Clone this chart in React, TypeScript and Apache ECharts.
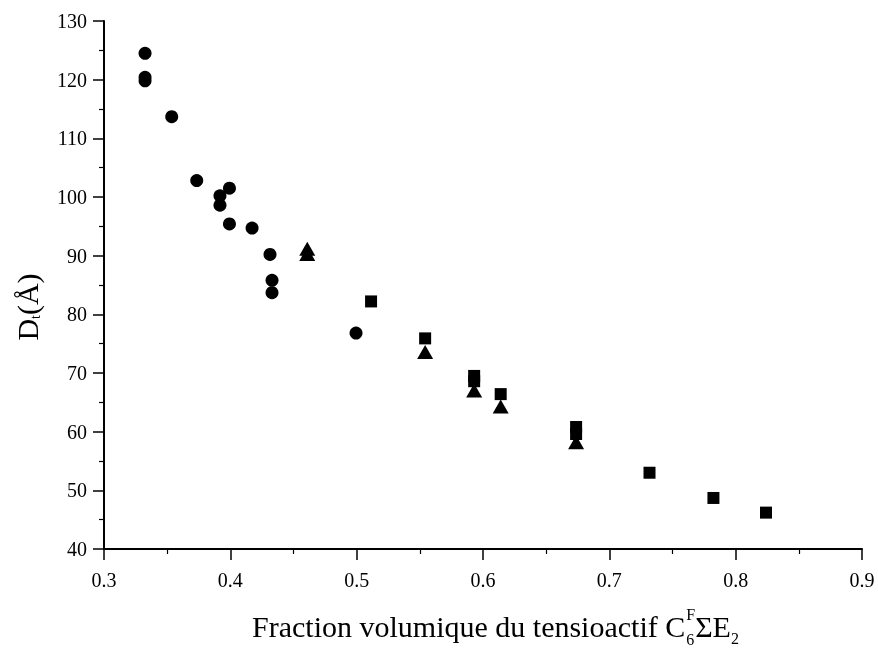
import React, { useEffect, useRef } from "react";
import * as echarts from "echarts";

const circleX = [0.3325, 0.3325, 0.3325, 0.3536, 0.3734, 0.3993, 0.3918, 0.3918, 0.3993, 0.4172, 0.4314, 0.433, 0.433, 0.4995];
const circleY = [124.5, 120.4, 119.8, 113.7, 102.8, 101.5, 100.2, 98.6, 95.4, 94.7, 90.2, 85.8, 83.7, 76.8];
const squareX = [0.5114, 0.5542, 0.593, 0.593, 0.614, 0.6737, 0.6737, 0.7318, 0.7824, 0.824];
const squareY = [82.2, 75.9, 69.5, 68.6, 66.4, 60.8, 59.6, 53.0, 48.7, 46.2];
const triangleX = [0.4609, 0.4609, 0.5542, 0.593, 0.614, 0.6737];
const triangleY = [91.2, 90.3, 73.6, 67.0, 64.3, 58.2];

const FF = '"Liberation Serif", "Times New Roman", serif';

const pairs = (xs: number[], ys: number[]) => xs.map((x, i) => [x, ys[i]]);

export default function App() {
  const ref = useRef<HTMLDivElement>(null);
  useEffect(() => {
    if (!ref.current) return;
    const chart = echarts.init(ref.current, undefined, { renderer: "svg" });
    const ctx = document.createElement("canvas").getContext("2d")!;
    const w = (t: string, s: number) => {
      ctx.font = `${s}px ${FF}`;
      return ctx.measureText(t).width;
    };
    // Title pieces
    const tMain = "Fraction volumique du tensioactif C";
    const big = 30, small = 16;
    const tx0 = 252, ty = 626;
    const x1 = tx0 + w(tMain, big);
    const x2 = x1 + Math.max(w("F", small), w("6", small)) + 1;
    const x3 = x2 + w("ΣE", big);
    const txt = (text: string, x: number, y: number, s: number) => ({
      type: "text",
      x,
      y,
      style: { text, x: 0, y: 0, font: `${s}px ${FF}`, fill: "#000", verticalAlign: "middle", align: "left" },
    });
    // Y name pieces (local coords, rotated)
    const yBig = 30, ySmall = 14;
    const wD = w("D", yBig), wt = w("t", ySmall), wp = w("(Å)", yBig);
    const W = wD + wt + wp;
    const option: any = {
      animation: false,
      grid: { left: 104, top: 21, right: 16, bottom: 103 },
      xAxis: {
        type: "value",
        min: 0.3,
        max: 0.9,
        interval: 0.1,
        axisLine: { lineStyle: { color: "#000", width: 2 } },
        axisTick: { length: 11, lineStyle: { color: "#000", width: 1.5 } },
        minorTick: { show: true, splitNumber: 2, length: 5, lineStyle: { color: "#000", width: 1.2 } },
        splitLine: { show: false },
        axisLabel: { color: "#000", fontFamily: FF, fontSize: 20, margin: 21, formatter: (v: number) => v.toFixed(1) },
      },
      yAxis: {
        type: "value",
        min: 40,
        max: 130,
        interval: 10,
        axisLine: { show: true, lineStyle: { color: "#000", width: 2 } },
        axisTick: { show: true, length: 11, lineStyle: { color: "#000", width: 1.5 } },
        minorTick: { show: true, splitNumber: 2, length: 5, lineStyle: { color: "#000", width: 1.2 } },
        splitLine: { show: false },
        axisLabel: { color: "#000", fontFamily: FF, fontSize: 20, margin: 17 },
      },
      series: [
        { type: "scatter", symbol: "circle", symbolSize: 13, itemStyle: { color: "#000", opacity: 1 }, data: pairs(circleX, circleY) },
        { type: "scatter", symbol: "rect", symbolSize: 12, itemStyle: { color: "#000", opacity: 1 }, data: pairs(squareX, squareY) },
        { type: "scatter", symbol: "triangle", symbolSize: [16, 14], itemStyle: { color: "#000", opacity: 1 }, data: pairs(triangleX, triangleY) },
      ],
      graphic: [
        txt(tMain, tx0, ty, big),
        txt("F", x1 + 1, ty - 12, small),
        txt("6", x1 + 1, ty + 13, small),
        txt("ΣE", x2, ty, big),
        txt("2", x3, ty + 12, small),
        {
          type: "group",
          x: 27,
          y: 307,
          rotation: Math.PI / 2,
          children: [
            txt("D", -W / 2, 0, yBig),
            txt("t", -W / 2 + wD, 8, ySmall),
            txt("(Å)", -W / 2 + wD + wt, 0, yBig),
          ],
        },
      ],
    };
    chart.setOption(option);
    return () => chart.dispose();
  }, []);
  return <div ref={ref} style={{ position: "fixed", left: 0, top: 0, width: 878, height: 652 }} />;
}
